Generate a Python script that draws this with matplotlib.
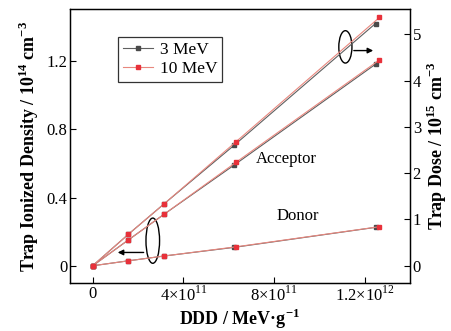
import matplotlib
matplotlib.use("Agg")
import matplotlib.pyplot as plt
from matplotlib.patches import Ellipse

plt.rcParams["font.family"] = ["Liberation Serif", "DejaVu Serif"]
plt.rcParams["mathtext.fontset"] = "custom"
plt.rcParams["mathtext.rm"] = "Liberation Serif"
plt.rcParams["mathtext.bf"] = "Liberation Serif:bold"

# DDD values (MeV/g)
ddd_3 = [0, 1.57e11, 3.14e11, 6.25e11, 1.248e12]
ddd_10 = [0, 1.57e11, 3.14e11, 6.32e11, 1.265e12]

# trap dose, right axis (1e15 cm^-3)
dose_3 = [0, 0.678, 1.333, 2.607, 5.235]
dose_10 = [0, 0.678, 1.333, 2.678, 5.365]

# ionized acceptor / donor, left axis (1e14 cm^-3)
acc_3 = [0, 0.151, 0.301, 0.591, 1.181]
acc_10 = [0, 0.151, 0.301, 0.606, 1.206]
don_3 = [0, 0.029, 0.057, 0.108, 0.225]
don_10 = [0, 0.029, 0.057, 0.111, 0.229]

x_ticks = [0, 4e11, 8e11, 1.2e12]
x_labels = ["0", r"4×10$^{11}$", r"8×10$^{11}$", r"1.2×10$^{12}$"]
yl_ticks = [0, 0.4, 0.8, 1.2]
yl_labels = ["0", "0.4", "0.8", "1.2"]
yr_ticks = [0, 1, 2, 3, 4, 5]

c3_line = "#606060"
c3_mark = "#4a4a4a"
c10_line = "#e8877e"
c10_mark = "#e8313a"

fig = plt.figure(figsize=(4.52, 3.31), dpi=100)
ax = fig.add_axes([0.155, 0.145, 0.752, 0.828])
ax2 = ax.twinx()

kw3 = dict(color=c3_line, marker="s", markersize=2.2, markerfacecolor=c3_mark,
           markeredgecolor=c3_mark, linewidth=0.8)
kw10 = dict(color=c10_line, marker="s", markersize=2.2, markerfacecolor=c10_mark,
            markeredgecolor=c10_mark, linewidth=0.8)

h3, = ax.plot(ddd_3, acc_3, label="3 MeV", **kw3)
ax.plot(ddd_3, don_3, **kw3)
h10, = ax.plot(ddd_10, acc_10, label="10 MeV", **kw10)
ax.plot(ddd_10, don_10, **kw10)

ax2.plot(ddd_3, dose_3, **kw3)
ax2.plot(ddd_10, dose_10, **kw10)

ax.set_xlim(-1.0e11, 1.4e12)
ax.set_ylim(-0.101, 1.505)
ax2.set_ylim(-0.374, 5.55)

ax.set_xticks(x_ticks)
ax.set_xticklabels(x_labels)
ax.set_yticks(yl_ticks)
ax.set_yticklabels(yl_labels)
ax2.set_yticks(yr_ticks)

for a in (ax, ax2):
    a.tick_params(direction="in", labelsize=12, length=4, width=0.8, pad=2)
    for s in a.spines.values():
        s.set_linewidth(0.9)

ax.set_xlabel(r"DDD / MeV·g$^{\mathbf{-1}}$", fontsize=13, fontweight="bold", labelpad=1)
ax.set_ylabel(r"Trap Ionized Density / 10$^{\mathbf{14}}$ cm$^{\mathbf{-3}}$",
              fontsize=13, fontweight="bold", labelpad=4)
ax2.set_ylabel(r"Trap Dose / 10$^{\mathbf{15}}$ cm$^{\mathbf{-3}}$",
               fontsize=13, fontweight="bold", labelpad=3)

leg = ax.legend(handles=[h3, h10], loc="upper left", bbox_to_anchor=(0.141, 0.898),
                borderaxespad=0, fontsize=12.5, frameon=True, fancybox=False,
                edgecolor="black", handlelength=1.7, borderpad=0.3,
                labelspacing=0.15, handletextpad=0.4)
leg.get_frame().set_linewidth(0.9)

ax.text(8.54e11, 0.626, "Acceptor", fontsize=12, ha="center", va="center")
ax.text(9.03e11, 0.29, "Donor", fontsize=12, ha="center", va="center")

# annotation ellipses and arrows
e1 = Ellipse((2.65e11, 0.147), 0.6e11, 0.265, fill=False, lw=1.0, color="black")
ax.add_patch(e1)
ax.annotate("", xy=(0.98e11, 0.078), xytext=(2.37e11, 0.078),
            arrowprops=dict(arrowstyle="-|>", color="black", lw=1.0, mutation_scale=8))
e2 = Ellipse((1.115e12, 4.73), 0.58e11, 0.7, fill=False, lw=1.0, color="black")
ax2.add_patch(e2)
ax2.annotate("", xy=(1.25e12, 4.65), xytext=(1.14e12, 4.65),
             arrowprops=dict(arrowstyle="-|>", color="black", lw=1.0, mutation_scale=8))

fig.savefig("out.png", dpi=100)
